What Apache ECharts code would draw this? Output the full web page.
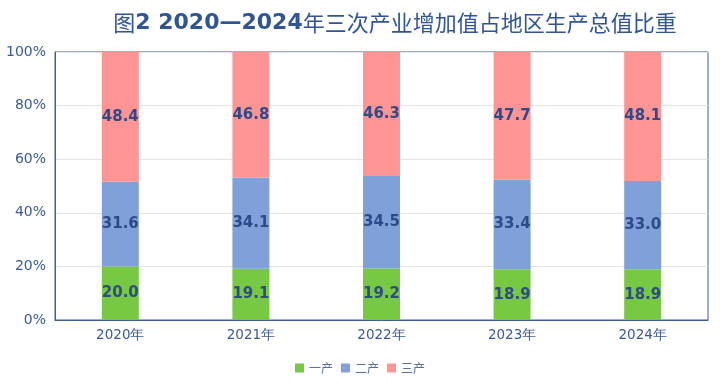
<!DOCTYPE html>
<html><head><meta charset="utf-8">
<script src="https://cdn.jsdelivr.net/npm/echarts@6/dist/echarts.min.js"></script>
<style>html,body{margin:0;padding:0;background:#fff}#c{width:720px;height:389px}</style>
</head><body><div id="c"></div>
<script>
const categories = ['2020年','2021年','2022年','2023年','2024年'];
const primary = [20.0, 19.1, 19.2, 18.9, 18.9];
const secondary = [31.6, 34.1, 34.5, 33.4, 33.0];
const tertiary = [48.4, 46.8, 46.3, 47.7, 48.1];
const seriesNames = ['一产','二产','三产'];
const yTicks = [0,20,40,60,80,100];

const chart = echarts.init(document.getElementById('c'));
const labelStyle = {show:true, position:'inside', color:'#2e4a8a', fontWeight:'bold', fontSize:15, fontFamily:'DejaVu Sans', formatter:p=>p.value.toFixed(1)};
function mk(name, data, color){
  return {name, type:'bar', stack:'s', data, barWidth:37, itemStyle:{color}, label:labelStyle};
}
chart.setOption({
  animation:false,
  title:{
    text:'{a|图}{b|2 2020—2024}{a|年三次产业增加值占地区生产总值比重}',
    left:390, top:7, textAlign:'center',
    textStyle:{rich:{
      a:{fontSize:22, color:'#2f5597', fontFamily:'Noto Sans CJK SC', fontWeight:'normal'},
      b:{fontSize:22, color:'#2f5597', fontFamily:'DejaVu Sans', fontWeight:'bold'}
    }}
  },
  legend:{
    bottom:10, left:'center', itemWidth:9, itemHeight:9, itemGap:8,
    textStyle:{color:'#5a6f9e', fontSize:12, fontFamily:'Noto Sans CJK SC'},
    data:seriesNames.map(n=>({name:n, icon:'rect'}))
  },
  grid:{left:55, right:12, top:52, bottom:69, show:true, borderColor:'#3d5f9a', borderWidth:1},
  xAxis:{type:'category', data:categories,
    axisLine:{lineStyle:{color:'#3d5f9a'}}, axisTick:{show:false},
    axisLabel:{color:'#3a5a95', fontSize:13.5, fontFamily:'DejaVu Sans', margin:8}},
  yAxis:{type:'value', min:yTicks[0], max:yTicks[yTicks.length-1], interval:20,
    axisLine:{show:true, lineStyle:{color:'#3d5f9a'}}, axisTick:{show:false},
    splitLine:{lineStyle:{color:'#e3e3e3'}},
    axisLabel:{color:'#3a5a95', fontSize:14, fontFamily:'DejaVu Sans', formatter:'{value}%', margin:9}},
  series:[
    mk(seriesNames[0], primary, '#77c843'),
    mk(seriesNames[1], secondary, '#7fa0d9'),
    mk(seriesNames[2], tertiary, '#fe9494')
  ]
});
</script></body></html>
